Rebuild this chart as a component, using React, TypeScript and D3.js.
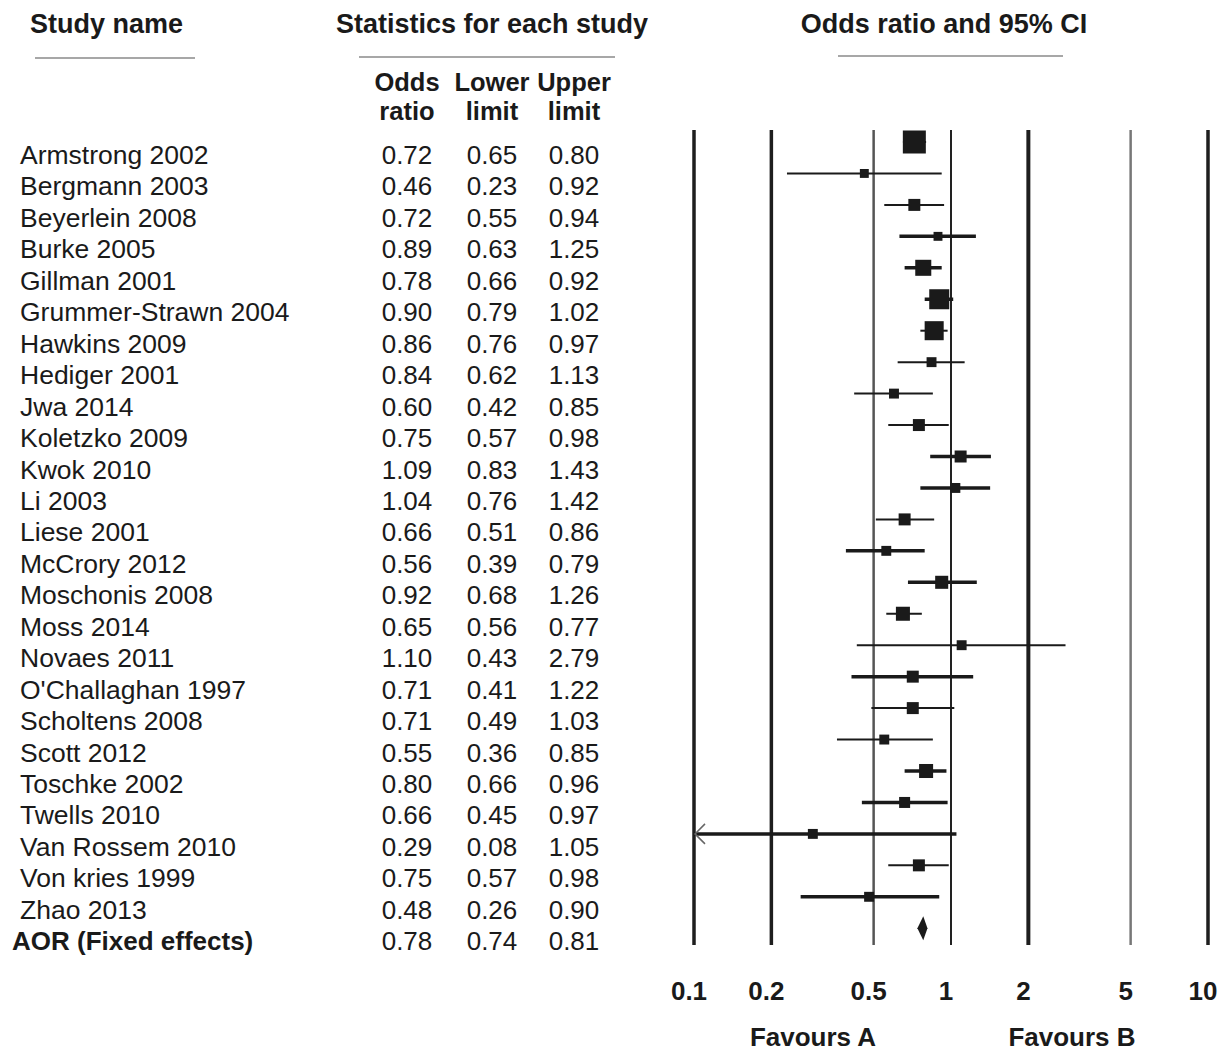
import React from 'react';
import * as d3 from 'd3';

// study rows, top to bottom
const studies = [
    "Armstrong 2002", "Bergmann 2003", "Beyerlein 2008", "Burke 2005", "Gillman 2001",
    "Grummer-Strawn 2004", "Hawkins 2009", "Hediger 2001", "Jwa 2014", "Koletzko 2009",
    "Kwok 2010", "Li 2003", "Liese 2001", "McCrory 2012", "Moschonis 2008",
    "Moss 2014", "Novaes 2011", "O'Challaghan 1997", "Scholtens 2008", "Scott 2012",
    "Toschke 2002", "Twells 2010", "Van Rossem 2010", "Von kries 1999", "Zhao 2013",
];
const oddsRatio = [0.72, 0.46, 0.72, 0.89, 0.78, 0.90, 0.86, 0.84, 0.60, 0.75, 1.09, 1.04, 0.66, 0.56, 0.92, 0.65, 1.10, 0.71, 0.71, 0.55, 0.80, 0.66, 0.29, 0.75, 0.48];
const lowerLimit = [0.65, 0.23, 0.55, 0.63, 0.66, 0.79, 0.76, 0.62, 0.42, 0.57, 0.83, 0.76, 0.51, 0.39, 0.68, 0.56, 0.43, 0.41, 0.49, 0.36, 0.66, 0.45, 0.08, 0.57, 0.26];
const upperLimit = [0.80, 0.92, 0.94, 1.25, 0.92, 1.02, 0.97, 1.13, 0.85, 0.98, 1.43, 1.42, 0.86, 0.79, 1.26, 0.77, 2.79, 1.22, 1.03, 0.85, 0.96, 0.97, 1.05, 0.98, 0.90];
// relative weight of each study (square area)
const weights = [14.0, 2.1, 3.8, 2.1, 6.8, 10.6, 9.6, 2.6, 2.6, 3.8, 3.8, 2.6, 3.8, 2.6, 4.5, 5.2, 2.6, 3.8, 3.8, 2.6, 5.2, 3.2, 2.6, 3.8, 2.6];

const pooledLabel = "AOR (Fixed effects)";
const pooledOR = 0.78;
const pooledLower = 0.74;
const pooledUpper = 0.81;

const tickValues = [0.1, 0.2, 0.5, 1, 2, 5, 10];
const tickLabels = ["0.1", "0.2", "0.5", "1", "2", "5", "10"];

// drawing style: which CI lines are heavy, and the grid line widths
const ciThick = [false, false, false, true, true, true, false, false, false, false, true, true, false, true, true, false, false, true, false, false, true, true, true, false, true];
const gridWidth = [3.5, 3.5, 2.5, 2, 4, 2.5, 3.5];
const gridColor = ["#1e1e1e", "#1e1e1e", "#555", "#222", "#1e1e1e", "#777", "#1e1e1e"];

const font = "'Liberation Sans', Arial, Helvetica, sans-serif";
const ink = "#1a1a1a";

const App = () => {
    const width = 1228;
    const height = 1052;

    const x = d3.scaleLog().domain([0.1, 10]).range([694, 1208]);
    const row = d3.scaleLinear().domain([0, studies.length]).range([155, 155 + 31.45 * studies.length]);
    const size = d3.scaleSqrt().domain([0, d3.max(weights)]).range([0, 23]);

    const markY = (i) => row(i) - 13;
    const clip = (v) => Math.max(0.1, Math.min(10, v));

    const colOR = 407, colLo = 492, colUp = 574;
    const n = studies.length;

    const diamond = d3.line()([
        [x(pooledLower), markY(n)],
        [x(pooledOR), markY(n) - 12],
        [x(pooledUpper), markY(n)],
        [x(pooledOR), markY(n) + 12],
    ]) + "Z";

    return (
        <svg width={width} height={height} style={{ position: 'absolute', left: 0, top: 0, background: '#fff' }} fontFamily={font}>
            {/* headers */}
            <g fontWeight="bold" fontSize={27} fill={ink}>
                <text x={30} y={33}>Study name</text>
                <text x={336} y={33}>Statistics for each study</text>
                <text x={944} y={33} textAnchor="middle">Odds ratio and 95% CI</text>
            </g>
            <g fontWeight="bold" fontSize={25.5} fill={ink} textAnchor="middle">
                <text x={colOR} y={91}>Odds</text>
                <text x={colLo} y={91}>Lower</text>
                <text x={colUp} y={91}>Upper</text>
                <text x={colOR} y={120}>ratio</text>
                <text x={colLo} y={120}>limit</text>
                <text x={colUp} y={120}>limit</text>
            </g>
            <g stroke="#8a8a8a" strokeWidth={1.6}>
                <line x1={35} x2={195} y1={58} y2={58} />
                <line x1={359} x2={615} y1={57} y2={57} />
                <line x1={838} x2={1063} y1={56} y2={56} />
            </g>

            {/* vertical reference lines */}
            {tickValues.map((t, i) => (
                <line key={"g" + t} x1={x(t)} x2={x(t)} y1={130} y2={945}
                    stroke={gridColor[i]} strokeWidth={gridWidth[i]} />
            ))}

            {/* study rows */}
            {studies.map((s, i) => (
                <g key={s} fill={ink}>
                    <text x={20} y={row(i) + 9} fontSize={26.5}>{s}</text>
                    <g fontSize={26} textAnchor="middle">
                        <text x={colOR} y={row(i) + 9}>{oddsRatio[i].toFixed(2)}</text>
                        <text x={colLo} y={row(i) + 9}>{lowerLimit[i].toFixed(2)}</text>
                        <text x={colUp} y={row(i) + 9}>{upperLimit[i].toFixed(2)}</text>
                    </g>
                </g>
            ))}
            {studies.map((s, i) => {
                const y = markY(i);
                const sz = size(weights[i]);
                const lo = clip(lowerLimit[i]);
                return (
                    <g key={"m" + s}>
                        <line x1={x(lo)} x2={x(clip(upperLimit[i]))} y1={y} y2={y}
                            stroke={ink} strokeWidth={ciThick[i] ? 3.5 : 2} />
                        {lowerLimit[i] < 0.1 && (
                            <polyline points={`${x(lo) + 11},${y - 10} ${x(lo) + 1},${y} ${x(lo) + 11},${y + 10}`}
                                fill="none" stroke="#666" strokeWidth={1.5} />
                        )}
                        <rect x={x(oddsRatio[i]) - sz / 2} y={y - sz / 2} width={sz} height={sz} fill={ink} />
                    </g>
                );
            })}

            {/* pooled row */}
            <g fontSize={26} fill={ink}>
                <text x={12} y={row(n) + 9} fontWeight="bold">{pooledLabel}</text>
                <g textAnchor="middle">
                    <text x={colOR} y={row(n) + 9}>{pooledOR.toFixed(2)}</text>
                    <text x={colLo} y={row(n) + 9}>{pooledLower.toFixed(2)}</text>
                    <text x={colUp} y={row(n) + 9}>{pooledUpper.toFixed(2)}</text>
                </g>
            </g>
            <path d={diamond} fill={ink} />

            {/* axis labels */}
            <g fontWeight="bold" fontSize={26} fill={ink} textAnchor="middle">
                {tickValues.map((t, i) => (
                    <text key={"t" + t} x={x(t) - 5} y={1000}>{tickLabels[i]}</text>
                ))}
                <text x={813} y={1046}>Favours A</text>
                <text x={1072} y={1046}>Favours B</text>
            </g>
        </svg>
    );
};

export default App;
